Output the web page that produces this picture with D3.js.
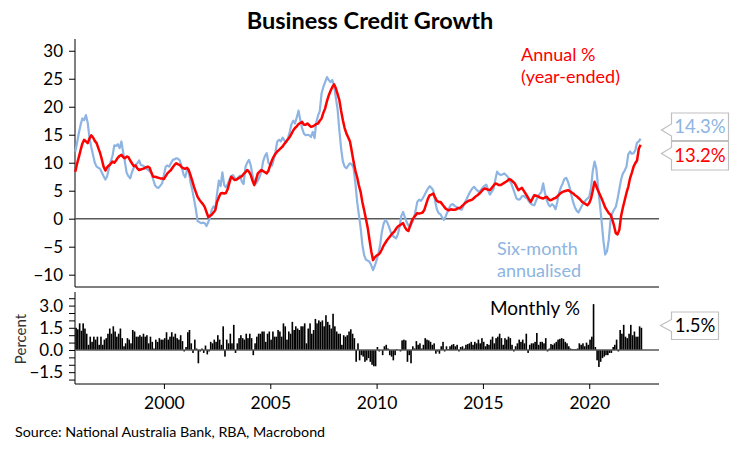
<!DOCTYPE html>
<html><head><meta charset="utf-8">
<script src="https://cdn.jsdelivr.net/npm/d3@7"></script>
<style>
html,body{margin:0;padding:0;background:#fff;}
svg{display:block;font-family:Lato,"Open Sans",sans-serif;}
</style></head><body>
<svg id="chart" width="740" height="455"></svg>
<script>
// ---- data (monthly, starting Nov 1995) ----
const startYear = 1995, startMonth = 10; // JS month index (Nov)
const annual = [
8.4,9.8,11.0,12.3,13.4,14.1,13.8,13.5,14.3,14.9,
14.5,13.9,13.5,12.6,11.7,10.5,9.3,8.6,9.2,9.5,
9.8,10.2,10.0,10.4,10.9,11.2,11.4,11.0,10.8,11.1,
11.0,10.4,9.9,9.4,9.5,9.0,8.7,8.8,8.9,9.0,
9.2,9.3,9.1,8.2,7.5,7.5,7.4,7.3,7.2,7.2,
7.1,7.6,8.1,8.4,8.7,9.2,9.6,9.9,9.7,9.6,
9.2,9.0,8.9,9.1,8.7,7.8,6.8,5.7,4.8,3.9,
3.4,3.0,2.6,2.1,1.2,0.3,0.5,0.7,1.1,1.5,
3.0,3.8,4.5,4.6,4.5,4.6,5.3,6.5,7.5,7.2,
6.9,7.0,7.2,7.4,7.6,8.0,8.3,8.7,8.4,7.8,
6.8,6.0,7.0,8.1,8.4,8.7,8.5,8.3,8.1,8.6,
9.6,10.5,11.1,11.6,12.0,12.3,12.6,12.9,13.4,13.8,
14.2,14.6,15.2,15.8,16.2,16.5,16.9,17.1,17.3,16.8,
16.8,17.0,16.7,16.4,16.5,16.7,16.9,17.0,17.5,17.9,
18.9,19.7,21.0,22.0,22.8,23.5,24.0,23.3,22.3,21.2,
19.3,17.6,16.2,15.2,14.5,13.8,12.0,10.2,8.6,7.4,
6.0,4.8,3.0,1.5,0.0,-1.6,-3.8,-5.8,-7.4,-6.9,
-6.6,-6.4,-6.1,-5.5,-4.8,-4.3,-3.8,-3.4,-3.0,-2.6,
-2.3,-1.8,-1.4,-1.2,-1.0,-0.8,-1.5,-2.0,-2.2,-1.2,
-0.3,0.2,0.6,1.0,0.9,1.0,1.1,1.6,2.6,3.6,
4.2,4.3,4.5,3.8,3.2,3.0,3.0,2.6,2.2,1.8,
1.6,1.5,1.7,1.6,1.6,1.7,1.9,1.9,2.2,2.5,
2.8,3.0,3.2,3.3,3.4,3.7,4.0,4.2,4.5,4.8,
5.2,5.4,5.3,5.2,5.1,5.5,5.9,6.3,6.2,6.0,
6.0,6.2,6.4,6.6,6.8,7.1,6.9,6.6,6.3,5.7,
5.1,5.3,5.5,5.0,4.5,4.0,3.5,3.0,3.6,4.2,
4.1,4.0,3.8,3.7,3.6,3.8,3.9,3.5,3.3,3.4,
3.6,3.7,4.0,4.3,4.6,4.8,4.9,5.0,5.1,4.9,
4.7,4.5,4.2,4.0,3.7,3.4,3.0,2.8,2.6,2.4,
2.8,3.6,5.0,6.6,5.8,5.0,4.3,3.6,2.8,2.0,
1.5,1.0,0.7,-0.2,-1.2,-2.6,-2.8,-2.0,0.5,2.0,
3.3,4.6,5.7,7.2,8.2,9.3,9.9,10.4,12.5,13.2];
const sixMonth = [
12.0,13.5,15.3,16.8,17.9,17.6,18.5,17.2,14.5,12.8,
11.4,10.0,9.3,9.1,8.9,8.2,7.6,7.0,7.6,9.0,
10.2,11.2,13.1,13.0,13.3,12.6,13.8,11.8,10.2,8.2,
7.6,7.2,8.3,9.1,9.6,9.9,10.4,9.6,9.5,9.3,
9.0,8.7,8.5,8.1,7.0,6.0,5.6,5.5,5.9,6.3,
7.8,9.3,9.5,9.3,9.9,10.5,10.6,10.8,10.7,10.4,
9.3,8.0,7.4,8.6,8.8,6.5,5.2,3.5,1.8,-0.4,
-0.6,-0.8,-0.7,-0.8,-1.3,-0.6,0.1,1.6,2.2,1.8,
4.4,6.8,5.8,8.3,6.0,5.6,6.2,7.0,7.6,7.8,
7.3,6.9,7.4,7.7,6.6,6.2,9.2,10.0,10.5,9.5,
7.8,6.5,6.3,6.8,7.5,8.4,10.3,11.2,11.7,10.0,
9.6,9.5,10.6,12.0,13.8,14.1,13.8,14.5,14.0,13.6,
14.4,15.5,16.9,17.5,17.0,18.1,19.3,17.6,16.2,15.2,
14.9,15.0,14.9,14.6,15.5,14.4,17.2,18.4,19.2,22.4,
23.5,24.4,25.3,24.8,24.4,24.8,23.8,21.6,19.6,15.8,
12.6,10.2,9.3,9.0,9.5,9.9,9.7,9.1,6.4,3.0,
0.8,-1.6,-4.6,-6.5,-7.3,-7.5,-7.7,-8.3,-9.2,-8.4,
-7.4,-6.2,-4.8,-2.4,-0.9,-0.2,-0.6,-1.4,-2.4,-3.0,
-3.3,-3.5,-2.8,-1.4,0.5,1.2,0.3,-0.6,-1.2,-1.4,
-0.8,0.0,1.4,3.0,3.4,3.2,3.6,4.2,4.8,5.4,
5.8,5.5,5.0,3.2,1.7,1.0,0.8,0.2,-0.2,0.4,
1.2,1.9,2.5,2.6,2.3,2.1,1.9,1.7,1.6,2.3,
3.0,3.6,4.3,4.9,5.4,5.7,5.3,5.0,4.8,5.2,
5.6,5.9,6.1,5.0,4.3,4.8,5.3,6.9,8.4,8.0,
7.8,7.9,8.1,7.8,7.5,6.8,6.3,5.4,4.5,3.6,
3.4,3.5,4.0,4.1,3.8,3.6,3.1,2.7,2.5,2.4,
3.2,3.9,4.4,4.8,6.3,4.6,3.3,2.5,2.2,2.6,
2.3,1.7,3.0,4.6,5.6,6.3,7.1,7.3,6.6,5.5,
4.2,2.9,2.0,1.4,1.1,1.8,2.4,2.9,3.3,3.6,
3.9,5.5,8.5,10.2,9.0,5.7,2.6,-0.5,-4.0,-6.4,
-5.8,-3.8,-0.3,1.0,1.6,2.1,3.5,5.3,7.0,8.1,
8.6,9.3,11.5,12.0,11.6,11.7,12.2,13.6,13.8,14.3];
const monthly = [
1.5,1.4,1.8,1.3,1.8,1.45,1.1,0.35,0.9,0.55,
0.9,0.7,0.9,0.35,0.9,0.35,0.7,0.8,1.1,1.45,
1.1,1.6,1.25,0.9,1.1,1.45,0.8,0.25,0.45,0.8,
0.7,0.45,1.35,1.25,0.9,0.9,1.0,0.9,1.1,0.9,
1.0,0.45,0.9,0.55,0.1,0.7,0.55,0.8,0.7,0.7,
0.8,1.2,0.7,0.9,1.2,0.9,1.1,0.8,0.7,1.0,
0.6,-0.1,0.2,1.2,1.35,0.45,-0.2,0.7,0.1,-0.9,
-0.1,0.1,-0.2,0.3,-0.3,-0.1,0.55,0.45,0.7,0.55,
1.0,0.7,0.35,1.6,-0.45,0.7,0.45,1.1,0.45,1.7,
-0.2,0.45,0.8,1.0,0.8,0.7,1.1,0.8,1.1,0.8,
-0.35,0.45,0.9,1.1,1.1,1.25,1.25,0.55,1.1,1.25,
0.7,1.25,0.9,0.9,1.35,1.25,0.9,1.8,1.6,0.7,
1.25,1.1,1.9,1.35,1.6,1.45,1.35,1.6,1.6,1.8,
0.45,1.45,1.8,1.1,1.35,2.1,1.8,2.0,1.9,2.0,
1.6,2.35,1.9,1.7,1.45,2.45,1.6,1.25,1.1,1.1,
0.35,1.0,0.9,1.0,1.25,1.4,1.1,0.8,-0.8,0.45,
-0.7,-0.35,-0.45,-0.8,-0.7,-0.55,-0.8,-1.0,-1.1,-1.1,
0.2,-0.1,0.0,-0.35,0.25,0.35,0.1,-0.35,-0.45,-0.7,
-0.35,0.05,0.0,-0.1,0.65,0.7,0.65,-0.8,-0.35,-0.9,
0.25,0.1,0.6,0.35,0.45,0.1,0.35,0.8,0.7,0.65,
0.55,0.35,0.45,-0.25,-0.1,-0.25,0.25,0.55,-0.1,0.25,
0.05,0.25,0.35,0.4,0.25,0.35,-0.1,0.2,0.25,0.1,
0.35,0.4,0.45,0.55,0.35,0.55,0.45,0.7,0.45,0.8,
0.55,0.25,0.4,0.35,0.7,0.9,0.45,0.8,0.9,1.1,
0.8,0.35,0.8,0.7,0.9,0.8,0.35,-0.1,0.25,0.45,
0.7,0.55,0.7,0.45,1.1,-0.2,0.35,0.45,0.45,0.55,
1.15,0.35,0.55,0.55,0.45,0.8,-0.1,0.1,0.4,0.35,
0.45,0.55,0.7,0.75,0.8,0.75,0.55,0.45,0.25,0.1,
0.05,0.05,0.05,0.1,0.45,0.35,0.45,0.25,0.5,0.35,
0.7,0.9,3.1,0.2,-0.7,-1.15,-0.8,-0.55,-0.45,-0.35,
-0.35,-0.2,-0.2,0.2,0.35,0.7,-0.1,1.35,1.1,1.7,
0.9,0.8,1.1,1.7,1.0,1.25,0.9,0.9,1.6,1.5];
const topTicks = [-10,-5,0,5,10,15,20,25,30];
const bottomTickLabels = [-1.5,0,1.5,3];
const bottomMinorTicks = [-2,-1.5,-1,-0.5,0,0.5,1,1.5,2,2.5,3,3.5];
const yearTicks = [2000,2005,2010,2015,2020];
const latestLabels = ["14.3%","13.2%","1.5%"];

// ---- layout ----
const RED = "#ff0000", BLUE = "#8db4e2";
const svg = d3.select("#chart");
const dates = annual.map((d,i)=> new Date(startYear, startMonth + i, 1));
const x = d3.scaleTime()
  .domain([new Date(1995, 9, 27), new Date(2023, 3, 13)])
  .range([75, 659]);
const yTop = d3.scaleLinear().domain([-12.2, 32.1]).range([287, 39]);
const yBot = d3.scaleLinear().domain([-2.3, 3.92]).range([384, 292]);

// title
svg.append("text").attr("x", 370).attr("y", 29).attr("text-anchor","middle")
  .attr("font-size", 23.5).attr("font-weight", "bold").text("Business Credit Growth");

// top panel axes
const gyTop = svg.append("g").attr("transform","translate(75,0)")
  .call(d3.axisLeft(yTop).tickValues(topTicks).tickSize(6).tickPadding(6).tickFormat(d3.format("d")));
gyTop.select(".domain").attr("d", `M0,39V287`).attr("stroke","#000");
gyTop.selectAll("text").attr("font-size",17).attr("font-family","Lato").attr("fill","#000");
gyTop.selectAll(".tick line").attr("stroke","#000");

svg.append("line").attr("x1",75).attr("x2",659).attr("y1",287).attr("y2",287).attr("stroke","#000");
svg.append("line").attr("x1",75).attr("x2",659).attr("y1",yTop(0)).attr("y2",yTop(0))
  .attr("stroke","#595959").attr("stroke-width",1.5);

// lines
const lineTop = d3.line().x((d,i)=>x(dates[i])).y(d=>yTop(d));
svg.append("path").datum(sixMonth).attr("d", lineTop).attr("fill","none")
  .attr("stroke", BLUE).attr("stroke-width", 2.2).attr("stroke-linejoin","round");
svg.append("path").datum(annual).attr("d", lineTop).attr("fill","none")
  .attr("stroke", RED).attr("stroke-width", 2.5).attr("stroke-linejoin","round");

// top labels
svg.append("text").attr("x",521).attr("y",61).attr("font-size",18).attr("fill",RED).text("Annual %");
svg.append("text").attr("x",521).attr("y",83).attr("font-size",18).attr("fill",RED).text("(year-ended)");
svg.append("text").attr("x",497).attr("y",255).attr("font-size",18).attr("fill",BLUE).text("Six-month");
svg.append("text").attr("x",497).attr("y",277).attr("font-size",18).attr("fill",BLUE).text("annualised");

// callouts
function callout(x0, y0, x1, y1, tipX, tipY, txt, color){
  const p = `M${x0},${y0}H${x1}V${y1}H${x0}V${tipY+6}L${tipX},${tipY}L${x0},${tipY-6}Z`;
  svg.append("path").attr("d", p).attr("fill","#fff").attr("stroke","#bfbfbf").attr("stroke-width",1.2);
  svg.append("text").attr("x",(x0+x1)/2).attr("y",(y0+y1)/2+6.5).attr("text-anchor","middle")
    .attr("font-size",18.5).attr("fill",color).text(txt);
}
callout(671.5,113,728.5,140.5,661.5,130,latestLabels[0],BLUE);
callout(671.5,141.5,728.5,170,661.5,153.5,latestLabels[1],RED);
callout(671.5,312,718.5,339.5,660.5,325.5,latestLabels[2],"#000");

// bottom panel
const gyBot = svg.append("g").attr("transform","translate(75,0)")
  .call(d3.axisLeft(yBot).tickValues(bottomMinorTicks).tickSize(6).tickPadding(6)
    .tickFormat(d => bottomTickLabels.includes(d) ? d3.format(".1f")(d) : ""));
gyBot.select(".domain").attr("d", `M0,292V384`).attr("stroke","#000");
gyBot.selectAll("text").attr("font-size",17).attr("font-family","Lato").attr("fill","#000");
gyBot.selectAll(".tick line").attr("stroke","#000");

const step = x(new Date(2000,1,1)) - x(new Date(2000,0,1));
svg.append("g").selectAll("rect").data(monthly).join("rect")
  .attr("x",(d,i)=>x(dates[i]))
  .attr("width", step*0.9)
  .attr("y", d=> d>=0 ? yBot(d) : yBot(0))
  .attr("height", d=> Math.abs(yBot(d)-yBot(0)))
  .attr("fill","#000");

svg.append("line").attr("x1",75).attr("x2",659).attr("y1",yBot(0)).attr("y2",yBot(0))
  .attr("stroke","#595959").attr("stroke-width",1.5);

const gx = svg.append("g").attr("transform","translate(0,384)")
  .call(d3.axisBottom(x).tickValues(yearTicks.map(y=>new Date(y,0,1))).tickSize(5).tickPadding(8)
    .tickFormat(d3.timeFormat("%Y")));
gx.select(".domain").attr("d","M75,0H659").attr("stroke","#000");
gx.selectAll("text").attr("font-size",17.5).attr("font-family","Lato").attr("fill","#000");
gx.selectAll(".tick line").attr("stroke","#000");

svg.append("text").attr("transform","translate(26,339) rotate(-90)").attr("text-anchor","middle")
  .attr("font-size",15).attr("fill","#333").text("Percent");
svg.append("text").attr("x",490).attr("y",315).attr("font-size",19).attr("fill","#000").text("Monthly %");

svg.append("text").attr("x",15).attr("y",437).attr("font-size",14.3).attr("fill","#000")
  .text("Source: National Australia Bank, RBA, Macrobond");
</script></body></html>
